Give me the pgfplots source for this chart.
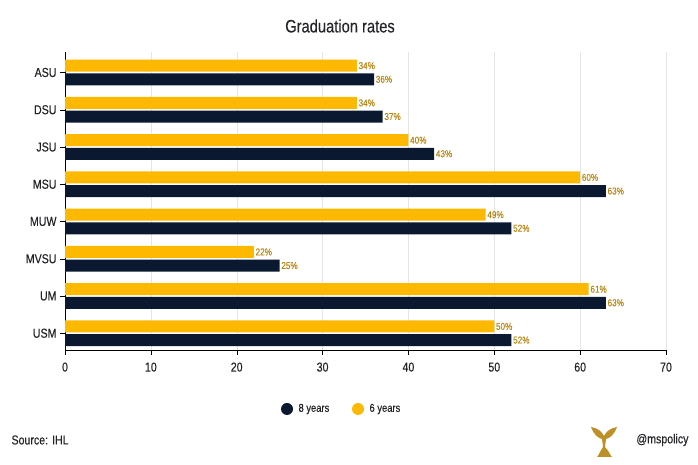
\documentclass[border=0pt]{standalone}
\usepackage{pgfplots}
\pgfplotsset{compat=1.18}
\usepackage{fontspec}
\setmainfont[FakeStretch=0.82, FakeBold=0.25]{Liberation Sans}
\definecolor{navy}{RGB}{10,24,48}
\definecolor{gold}{RGB}{253,185,0}
\definecolor{lbl}{RGB}{184,134,18}
\definecolor{txt}{RGB}{35,35,40}
\definecolor{logo}{RGB}{190,145,40}
\begin{document}
\begin{tikzpicture}[x=1bp,y=1bp]
\path[use as bounding box] (0,0) rectangle (698,465);
\node[font=\fontsize{18}{18}\selectfont, text=txt] at (340,439) {Graduation rates};
\begin{axis}[
  at={(65bp,115bp)}, anchor=south west,
  scale only axis, width=601bp, height=298bp,
  xmin=0, xmax=70, ymin=-0.55, ymax=7.45,
  y dir=reverse,
  xbar, bar width=12bp,
  axis x line*=bottom, axis y line*=left,
  xtick={0,10,...,70},
  ytick={0,...,7},
  yticklabels={ASU,DSU,JSU,MSU,MUW,MVSU,UM,USM},
  tick align=outside,
  major tick length=5bp,
  xmajorgrids, grid style={gray!20},
  tick style={black},
  axis line style={black},
  ticklabel style={font=\fontsize{13}{13}\selectfont, text=txt},
  xticklabel style={yshift=-4bp},
  /pgf/number format/assume math mode=true,
  nodes near coords={\pgfmathprintnumber{\pgfplotspointmeta}\%},
  every node near coord/.append style={font=\fontsize{10}{10}\selectfont, text=lbl, inner sep=1.5bp},
  clip=false,
]
\addplot[fill=gold, draw=none, bar shift=6.8bp] coordinates {
(34,0) (34,1) (40,2) (60,3) (49,4) (22,5) (61,6) (50,7)};
\addplot[fill=navy, draw=none, bar shift=-6.8bp] coordinates {
(36,0) (37,1) (43,2) (63,3) (52,4) (25,5) (63,6) (52,7)};
\end{axis}
\fill[navy] (287,56) circle (6);
\node[anchor=west, font=\fontsize{11.5}{11.5}\selectfont, text=txt] at (295,56) {8 years};
\fill[gold] (358,56) circle (6);
\node[anchor=west, font=\fontsize{11.5}{11.5}\selectfont, text=txt] at (366,56) {6 years};
\node[anchor=west, font=\fontsize{13}{13}\selectfont, text=txt] at (8,25) {Source: IHL};
\node[anchor=east, font=\fontsize{13}{13}\selectfont, text=txt] at (692,25) {@mspolicy};
% rough eagle mark
\fill[logo] (591,38) .. controls (598,37) and (602,33) .. (604,29)
  .. controls (606,33) and (610,37) .. (617,38)
  .. controls (614,30) and (610,27) .. (606,26)
  -- (605,18) .. controls (609,14) and (610,10) .. (612,8)
  -- (597,8) .. controls (599,10) and (600,14) .. (603,18)
  -- (602,26) .. controls (598,27) and (594,30) .. (591,38) -- cycle;
\end{tikzpicture}
\end{document}
